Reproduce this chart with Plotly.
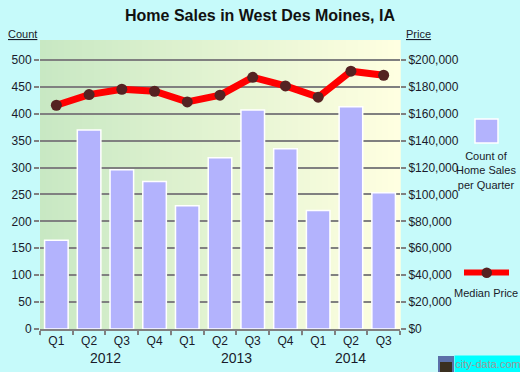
import plotly.graph_objects as go

quarters = ["Q1", "Q2", "Q3", "Q4", "Q1", "Q2", "Q3", "Q4", "Q1", "Q2", "Q3"]
years = ["2012", "2013", "2014"]
year_centers = [1.5, 5.5, 9.0]
year_bounds = [-0.5, 3.5, 7.5]
counts = [165, 370, 296, 274, 229, 318, 407, 335, 220, 413, 253]
prices = [166300, 174200, 178200, 176700, 168800, 173800, 187100, 180700, 172300, 191600, 188600]
count_ticks = [0, 50, 100, 150, 200, 250, 300, 350, 400, 450, 500]
price_ticks = [0, 20000, 40000, 60000, 80000, 100000, 120000, 140000, 160000, 180000, 200000]
price_labels = ["$0", "$20,000", "$40,000", "$60,000", "$80,000", "$100,000",
                "$120,000", "$140,000", "$160,000", "$180,000", "$200,000"]

xs = list(range(len(quarters)))
FONT = "Liberation Sans, Arial, sans-serif"
TXT = "#1a1a2a"

fig = go.Figure()
fig.add_trace(go.Bar(
    x=xs, y=counts, width=0.72,
    marker=dict(color="#b3b3fd", line=dict(color="white", width=1.5)),
    showlegend=False, hoverinfo="y"))
fig.add_trace(go.Scatter(
    x=xs, y=prices, yaxis="y2", mode="lines+markers",
    line=dict(color="#ff0000", width=7),
    marker=dict(color="#552222", size=11),
    showlegend=False))

shapes = []
# gradient background of plot area
N = 60
c0 = (200, 232, 195)
c1 = (255, 255, 225)
for i in range(N):
    t = i / (N - 1)
    col = "rgb(%d,%d,%d)" % tuple(round(a + (b - a) * t) for a, b in zip(c0, c1))
    shapes.append(dict(type="rect", xref="paper", yref="paper",
                       x0=i / N, x1=(i + 1) / N + 0.002, y0=0, y1=1,
                       fillcolor=col, line=dict(width=0), layer="below"))
# longer ticks at year boundaries
for b in year_bounds:
    shapes.append(dict(type="line", xref="x", yref="paper", x0=b, x1=b,
                       y0=0, y1=-0.022, line=dict(color="#808080", width=1.5)))
# legend swatches
shapes.append(dict(type="rect", xref="paper", yref="paper",
                   x0=(475 - 40) / 360, x1=(498 - 40) / 360,
                   y0=(329 - 143) / 289, y1=(329 - 119) / 289,
                   fillcolor="#b3b3fd", line=dict(color="white", width=1.5)))
shapes.append(dict(type="line", xref="paper", yref="paper",
                   x0=(464 - 40) / 360, x1=(509 - 40) / 360,
                   y0=(329 - 272.5) / 289, y1=(329 - 272.5) / 289,
                   line=dict(color="#ff0000", width=6)))
shapes.append(dict(type="circle", xref="paper", yref="paper",
                   x0=(481.5 - 40) / 360, x1=(492 - 40) / 360,
                   y0=(329 - 278) / 289, y1=(329 - 267.5) / 289,
                   fillcolor="#552222", line=dict(width=0)))
# logo icon
shapes.append(dict(type="rect", xref="paper", yref="paper",
                   x0=(438 - 40) / 360, x1=(454 - 40) / 360,
                   y0=(329 - 372) / 289, y1=(329 - 356) / 289,
                   fillcolor="#5b6fa8", line=dict(width=0)))
shapes.append(dict(type="rect", xref="paper", yref="paper",
                   x0=(440 - 40) / 360, x1=(452 - 40) / 360,
                   y0=(329 - 372) / 289, y1=(329 - 362) / 289,
                   fillcolor="#3a3020", line=dict(width=0)))

annotations = []
for y, c in zip(years, year_centers):
    annotations.append(dict(x=c, y=-(357.5 - 329) / 289, xref="x", yref="paper",
                            text=y, showarrow=False, xanchor="center", yanchor="middle",
                            font=dict(family=FONT, size=14, color=TXT)))
annotations.append(dict(x=(22 - 40) / 360, y=(329 - 34) / 289, xref="paper", yref="paper",
                        text="<u>Count</u>", showarrow=False, xanchor="center", yanchor="middle",
                        font=dict(family=FONT, size=11, color=TXT)))
annotations.append(dict(x=(418 - 40) / 360, y=(329 - 34) / 289, xref="paper", yref="paper",
                        text="<u>Price</u>", showarrow=False, xanchor="center", yanchor="middle",
                        font=dict(family=FONT, size=11, color=TXT)))
annotations.append(dict(x=(486 - 40) / 360, y=(329 - 170) / 289, xref="paper", yref="paper",
                        text="Count of<br>Home Sales<br>per Quarter", showarrow=False,
                        xanchor="center", yanchor="middle", align="center",
                        font=dict(family=FONT, size=11, color=TXT)))
annotations.append(dict(x=(486 - 40) / 360, y=(329 - 292.5) / 289, xref="paper", yref="paper",
                        text="Median Price", showarrow=False, xanchor="center", yanchor="middle",
                        font=dict(family=FONT, size=11, color=TXT)))
annotations.append(dict(x=(454 - 40) / 360, y=(329 - 364) / 289, xref="paper", yref="paper",
                        text="city-data.com", showarrow=False, xanchor="left", yanchor="middle",
                        bgcolor="#00ffff", borderpad=0, width=66, height=16, align="center",
                        font=dict(family=FONT, size=11, color="#9a9a9a")))

fig.update_layout(
    width=520, height=372,
    margin=dict(l=40, r=120, t=40, b=43),
    paper_bgcolor="#c6fafa",
    plot_bgcolor="rgba(0,0,0,0)",
    title=dict(text="<b>Home Sales in West Des Moines, IA</b>", x=0.5, xanchor="center",
               y=1 - 15 / 372, yanchor="middle",
               font=dict(family=FONT, size=16, color="#111")),
    font=dict(family=FONT, size=12, color=TXT),
    bargap=0.28,
    xaxis=dict(range=[-0.5, 10.5], tickmode="array", tickvals=xs, ticktext=quarters,
               ticks="", showgrid=False, zeroline=False, showline=True,
               linecolor="#808080", linewidth=1.5,
               tickfont=dict(family=FONT, size=12, color=TXT),
               minor=dict(tickmode="array", tickvals=[i - 0.5 for i in range(12)],
                          ticks="outside", ticklen=4, tickcolor="#808080", tickwidth=1.5,
                          showgrid=False),
               fixedrange=True),
    yaxis=dict(range=[0, 537], tickmode="array", tickvals=count_ticks,
               ticks="outside", ticklen=5, tickcolor="#808080", tickwidth=1.5,
               showgrid=True, gridcolor="#808080", gridwidth=1.5, zeroline=False,
               showline=False, tickfont=dict(family=FONT, size=12, color=TXT),
               fixedrange=True),
    yaxis2=dict(range=[0, 537 * 400], overlaying="y", side="right", tickmode="array",
                tickvals=price_ticks, ticktext=price_labels,
                ticks="outside", ticklen=5, tickcolor="#808080", tickwidth=1.5,
                showgrid=False, zeroline=False, showline=False,
                tickfont=dict(family=FONT, size=12, color=TXT), fixedrange=True),
    shapes=shapes,
    annotations=annotations,
)

fig.write_html("out.html", config={"displayModeBar": False},
               post_script="document.body.style.margin='0';")
